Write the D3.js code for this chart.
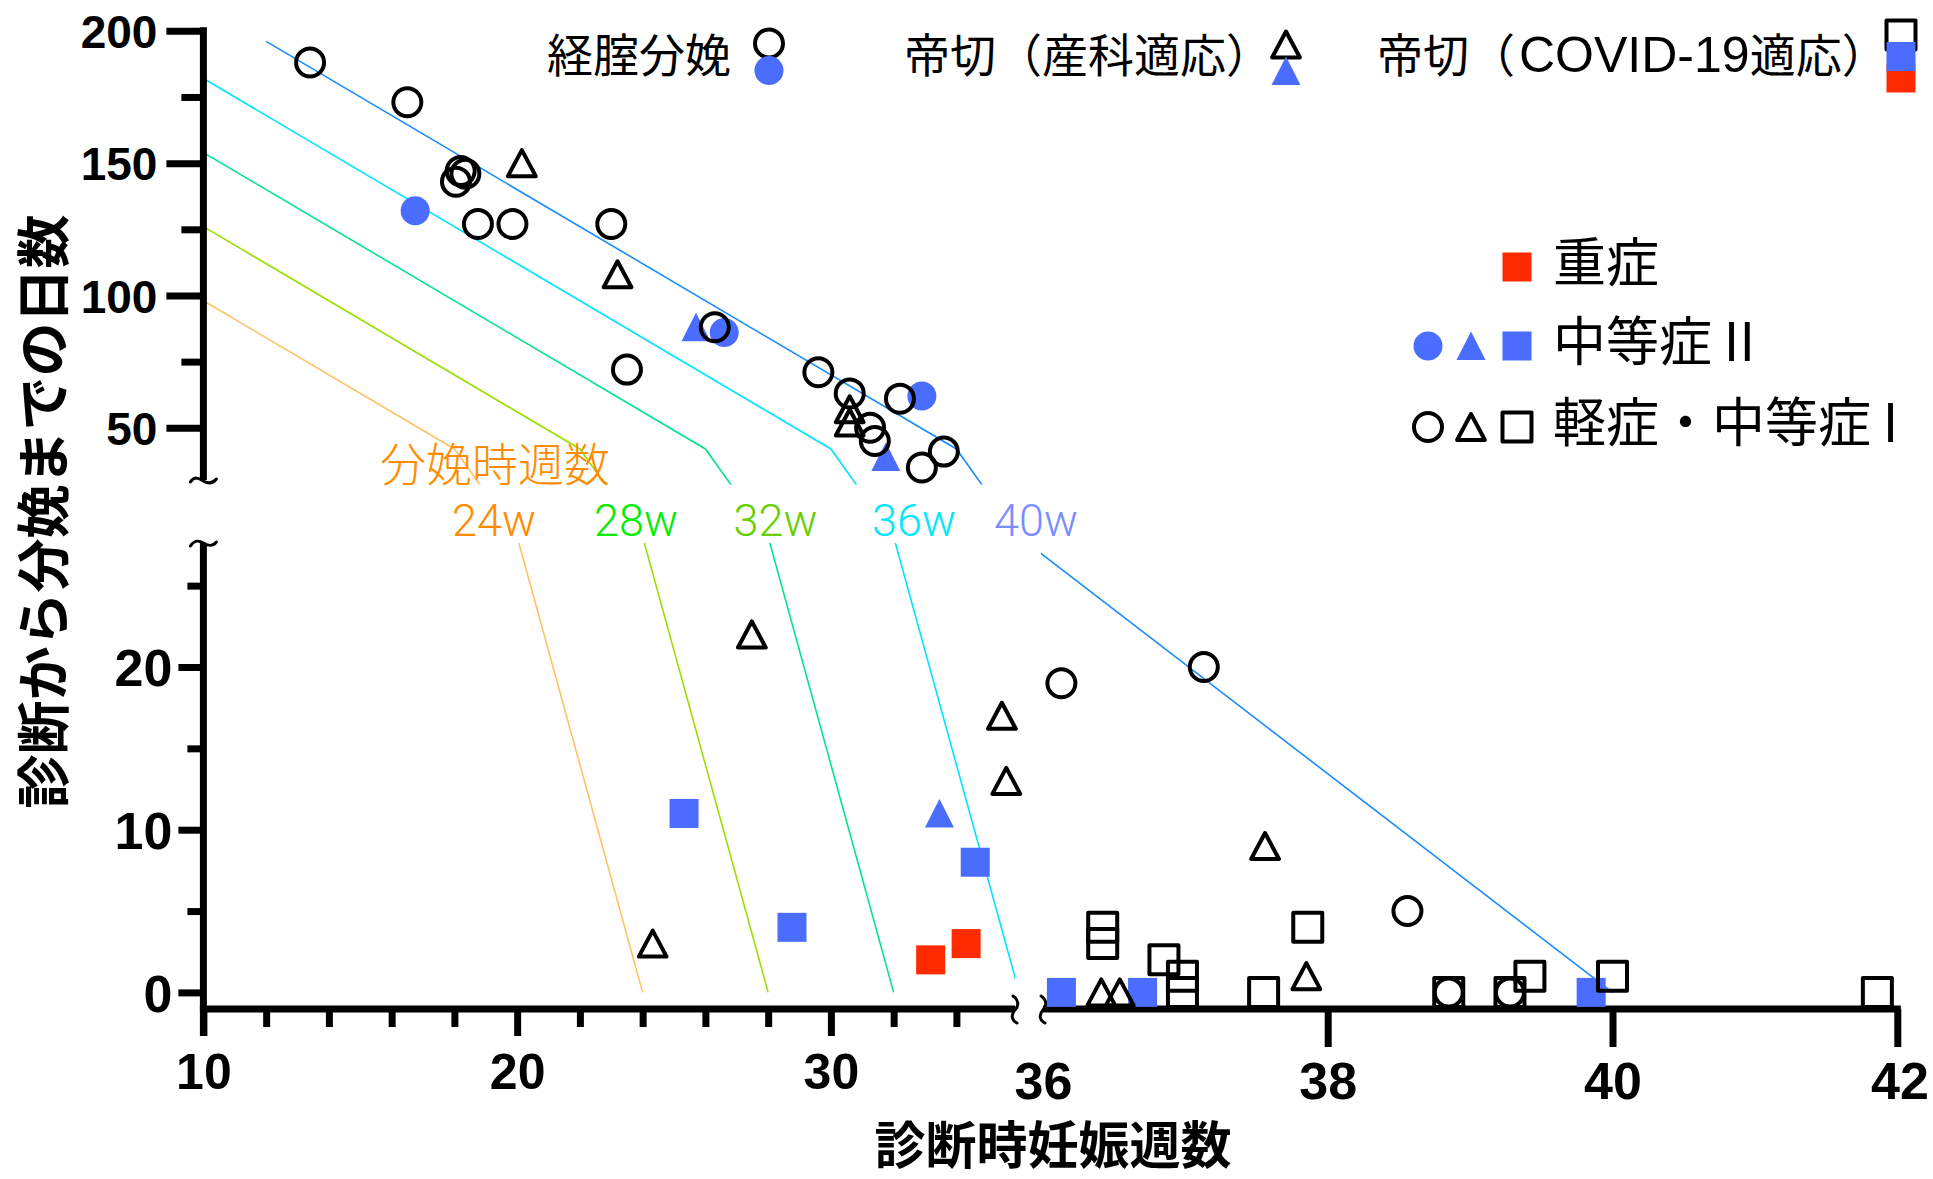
<!DOCTYPE html>
<html><head><meta charset="utf-8">
<script src="https://cdn.jsdelivr.net/npm/d3@7"></script>
<style>html,body{margin:0;padding:0;background:#fff}svg{display:block}</style>
</head><body>
<svg id="chart" width="1933" height="1179"></svg>
<script>
// ---------------- data (weeks at diagnosis, days to delivery) ----------------
const vaginalMild = [[13.4,188],[16.5,173],[18.2,147],[18.35,146],[18.05,143],[18.75,127],[19.85,127],
  [23.0,127],[23.5,72],[26.3,88],[29.6,71],[30.6,63],[32.2,61],[31.25,50],[31.4,45],[32.9,35],[33.6,41],
  [36.13,19],[37.13,20],[38.56,5],[38.85,0],[39.28,0]];
const vaginalModerate = [[16.75,132],[26.6,86],[32.9,62]];
const csObstetricMild = [[20.15,150],[23.2,108],[30.6,57],[30.6,52],
  [24.32,3],[27.48,22],[35.45,17],[35.59,13],[36.41,0],[36.54,0],[37.56,9],[37.85,1]];
const csObstetricModerate = [[25.7,88],[31.75,39],[33.46,11]];
const csCovidMild = [[36.42,4],[36.42,3],[36.85,2],[36.98,1],[36.98,0],[37.55,0],[37.86,4],
  [38.85,0],[39.28,0],[39.42,1],[40.0,1],[41.86,0]];
const csCovidModerate = [[25.32,11],[28.76,4],[34.6,8],[36.13,0],[36.7,0],[39.85,0]];
const csCovidSevere = [[33.18,2],[34.31,3]];

// reference lines: week of delivery
const lineLabels = ["24w","28w","32w","36w","40w"];
const line24 = [[10,98],[18,42],[20,28],[24,0]];
const line28 = [[10,126],[22,42],[24,28],[28,0]];
const line32 = [[10,154],[26,42],[28,28],[32,0]];
const line36 = [[10,182],[30,42],[32,28],[36,0]];
const line40 = [[12,196],[34,42],[36,28],[40,0]];

// ticks
const yUpperMajor = [50,100,150,200], yUpperMinor = [75,125,175];
const yLowerMajor = [0,10,20], yLowerMinor = [5,15,25];
const xLeftMajor = [10,20,30], xLeftMinor = [12,14,16,18,22,24,26,28,32,34];
const xRightMajor = [36,38,40,42];

// text
const yTitle = "診断から分娩までの日数";
const xTitle = "診断時妊娠週数";
const legendTop = ["経腟分娩","帝切（産科適応）"];
const legendCovid = ["帝切（","COVID-19","適応）"];
const legendSeverity = ["重症","中等症 II","軽症・中等症 I"];
const lineTitle = "分娩時週数";

// ---------------- drawing ----------------
const svg = d3.select("#chart");
const BLUE = "#4a6dff", RED = "#ff2a00";
const lineColors = ["#ffc266","#99e000","#00e68c","#00e5ff","#1a8cff"];
const labelColors = ["#ff8c00","#00ee00","#66d000","#00e8ff","#7b8cff"];

const X0 = 203.4, XAXIS_Y = 1009;
const xLeft = d3.scaleLinear().domain([10,30]).range([203.4,830.9]);
const xRight = d3.scaleLinear().domain([38,40]).range([1327.7,1612.5]);
const yUpper = d3.scaleLinear().domain([50,200]).range([427.8,30.8]);
const yLower = d3.scaleLinear().domain([0,20]).range([992.4,667]);
const sx = x => x <= 36 ? xLeft(x) : xRight(x);
const sy = y => y >= 30 ? yUpper(y) : yLower(y);

// clip for broken axes
const defs = svg.append("defs");
const cp = defs.append("clipPath").attr("id","panels");
cp.append("rect").attr("x",206).attr("y",0).attr("width",1727).attr("height",484.5);
cp.append("rect").attr("x",206).attr("y",543).attr("width",1015-206).attr("height",470);
cp.append("rect").attr("x",1041).attr("y",543).attr("width",900).attr("height",470);

const lineGen = d3.line().x(d=>sx(d[0])).y(d=>sy(d[1]));
const allLines = [line24,line28,line32,line36,line40];
svg.append("g").attr("clip-path","url(#panels)")
  .selectAll("path").data(allLines).join("path")
  .attr("d",lineGen).attr("fill","none")
  .attr("stroke",(d,i)=>lineColors[i]).attr("stroke-width",1.6);

// ---- axes ----
function styleAxis(g, fs){
  g.select(".domain").remove();
  g.selectAll(".tick line").attr("stroke","#000").attr("stroke-width",7);
  g.attr("font-family","'Liberation Sans', Arial, Helvetica, sans-serif")
   .attr("font-weight","bold").attr("font-size",fs).attr("fill","#000");
  g.selectAll(".tick text").attr("fill","#000");
}
const fmt = d3.format("d");
// upper y
svg.append("g").attr("transform",`translate(${X0},0)`)
  .call(d3.axisLeft(yUpper).tickValues(yUpperMajor).tickFormat(fmt).tickSize(37).tickPadding(9).tickSizeOuter(0))
  .call(g=>styleAxis(g,46)).call(g=>g.selectAll(".tick text").attr("dy","0.36em"));
svg.append("g").attr("transform",`translate(${X0},0)`)
  .call(d3.axisLeft(yUpper).tickValues(yUpperMinor).tickSize(22).tickFormat("").tickSizeOuter(0))
  .call(g=>styleAxis(g,46));
// lower y
svg.append("g").attr("transform",`translate(${X0},0)`)
  .call(d3.axisLeft(yLower).tickValues(yLowerMajor).tickFormat(fmt).tickSize(25).tickPadding(6).tickSizeOuter(0))
  .call(g=>styleAxis(g,52)).call(g=>g.selectAll(".tick text").attr("dy","0.36em"));
svg.append("g").attr("transform",`translate(${X0},0)`)
  .call(d3.axisLeft(yLower).tickValues(yLowerMinor).tickSize(16).tickFormat("").tickSizeOuter(0))
  .call(g=>styleAxis(g,52));
// left x
svg.append("g").attr("transform",`translate(0,${XAXIS_Y})`)
  .call(d3.axisBottom(xLeft).tickValues(xLeftMajor).tickFormat(fmt).tickSize(27).tickPadding(17.4).tickSizeOuter(0))
  .call(g=>styleAxis(g,50));
svg.append("g").attr("transform",`translate(0,${XAXIS_Y})`)
  .call(d3.axisBottom(xLeft).tickValues(xLeftMinor).tickSize(18).tickFormat("").tickSizeOuter(0))
  .call(g=>styleAxis(g,50));
// right x
svg.append("g").attr("transform",`translate(0,${XAXIS_Y})`)
  .call(d3.axisBottom(xRight).tickValues(xRightMajor).tickFormat(fmt).tickSize(38).tickPadding(14.7).tickSizeOuter(0))
  .call(g=>styleAxis(g,52))
  .call(g=>g.selectAll(".tick").filter(d=>d===36).select("line").remove())
  .call(g=>g.selectAll(".tick").filter(d=>d===42).select("text").attr("text-anchor","end").attr("x",31));

// axis lines
const axl = svg.append("g").attr("stroke","#000").attr("stroke-width",7).attr("fill","none");
axl.append("line").attr("x1",X0).attr("x2",X0).attr("y1",yUpper(200)-3.5).attr("y2",480);
axl.append("line").attr("x1",X0).attr("x2",X0).attr("y1",543).attr("y2",XAXIS_Y+27);
axl.append("line").attr("x1",X0-3.5).attr("x2",1015).attr("y1",XAXIS_Y).attr("y2",XAXIS_Y);
axl.append("line").attr("x1",1043).attr("x2",xRight(42)+3.5).attr("y1",XAXIS_Y).attr("y2",XAXIS_Y);
// break marks
const brk = svg.append("g").attr("stroke","#000").attr("stroke-width",3).attr("fill","none").attr("stroke-linecap","round");
brk.append("path").attr("d",`M${X0-13},${482} C${X0-9},${476} ${X0-5},${478} ${X0},${481} C${X0+5},${484} ${X0+9},${484} ${X0+13},${479}`);
brk.append("path").attr("d",`M${X0-13},${546} C${X0-9},${540} ${X0-5},${540} ${X0},${543} C${X0+5},${546} ${X0+9},${547} ${X0+13},${542}`);
[1015,1043].forEach(xb=>{
  brk.append("path").attr("d",`M${xb-2},${996} C${xb+4},${1000} ${xb+4},${1006} ${xb},${1010} C${xb-4},${1014} ${xb-4},${1020} ${xb+2},${1023}`);
});

// ---- symbols ----
function circleS(g,x,y,filled,color){
  g.append("circle").attr("cx",x).attr("cy",y).attr("r",filled?14.5:14)
   .attr("fill",filled?color:"none").attr("stroke",filled?"none":"#000").attr("stroke-width",4);
}
function triS(g,x,y,filled,color){
  const p = filled ? `M${x},${y-14.5}L${x+14.5},${y+14}L${x-14.5},${y+14}Z`
                   : `M${x},${y-13}L${x+13.9},${y+13}L${x-13.9},${y+13}Z`;
  g.append("path").attr("d",p).attr("fill",filled?color:"none")
   .attr("stroke",filled?"none":"#000").attr("stroke-width",4).attr("stroke-linejoin","round");
}
function sqS(g,x,y,filled,color){
  g.append("rect").attr("x",x-14.5).attr("y",y-14.5).attr("width",29).attr("height",29)
   .attr("fill",filled?color:"none").attr("stroke",filled?"none":"#000").attr("stroke-width",4)
   .attr("stroke-linejoin","round");
}
const marks = svg.append("g");
csCovidSevere.forEach(d=>sqS(marks,sx(d[0]),sy(d[1]),true,RED));
csCovidModerate.forEach(d=>sqS(marks,sx(d[0]),sy(d[1]),true,BLUE));
csObstetricModerate.forEach(d=>triS(marks,sx(d[0]),sy(d[1]),true,BLUE));
vaginalModerate.forEach(d=>circleS(marks,sx(d[0]),sy(d[1]),true,BLUE));
csCovidMild.forEach(d=>sqS(marks,sx(d[0]),sy(d[1]),false));
csObstetricMild.forEach(d=>triS(marks,sx(d[0]),sy(d[1]),false));
vaginalMild.forEach(d=>circleS(marks,sx(d[0]),sy(d[1]),false));

// ---- legends ----
const CJK = "'Noto Sans CJK JP','Noto Sans CJK SC',sans-serif";
const lg = svg.append("g");
const topText = lg.append("g").attr("font-family",CJK).attr("font-size",46).attr("fill","#000");
[[547,legendTop[0]],[904,legendTop[1]]].forEach(([x,t])=>{
  topText.append("text").attr("x",x).attr("y",71.5).text(t);
});
const cov = topText.append("text").attr("x",1377).attr("y",71.5);
cov.append("tspan").text(legendCovid[0]);
cov.append("tspan").attr("font-family","'Liberation Sans',Arial,Helvetica,sans-serif").attr("font-size",50).attr("dx",4).text(legendCovid[1]);
cov.append("tspan").text(legendCovid[2]);

circleS(lg,769,43.5,false); circleS(lg,769,70.5,true,BLUE);
triS(lg,1286,44.5,false); triS(lg,1286,71,true,BLUE);
sqS(lg,1901,78,true,RED); sqS(lg,1901,35,false); sqS(lg,1901,56.5,true,BLUE);

sqS(lg,1517,267,true,RED);
circleS(lg,1428,346,true,BLUE); triS(lg,1471,346,true,BLUE); sqS(lg,1517,346,true,BLUE);
circleS(lg,1428,427,false); triS(lg,1471,427,false); sqS(lg,1517,427,false);
const sevText = lg.append("g").attr("font-family",CJK).attr("font-size",53).attr("fill","#000");
[[282,legendSeverity[0]],[361,legendSeverity[1]],[442,legendSeverity[2]]].forEach(([y,t])=>{
  sevText.append("text").attr("x",1553).attr("y",y).text(t);
});

// line labels
svg.append("text").attr("x",380).attr("y",480.5).attr("font-family",CJK)
  .attr("font-size",46).attr("font-weight",300).attr("fill","#ff8c00").text(lineTitle);
const labelX = [494,636,775.5,914,1036];
svg.append("g").attr("font-family","Roboto,'Liberation Sans',sans-serif").attr("font-weight",300)
  .attr("font-size",45).attr("text-anchor","middle")
  .selectAll("text").data(lineLabels).join("text")
  .attr("x",(d,i)=>labelX[i]).attr("y",536).attr("fill",(d,i)=>labelColors[i]).text(d=>d);

// axis titles
svg.append("text").attr("transform","translate(43.5,511.5) rotate(-90)")
  .attr("text-anchor","middle").attr("y",20.5).attr("font-family",CJK)
  .attr("font-weight","bold").attr("font-size",54).attr("fill","#000").text(yTitle);
svg.append("text").attr("x",1053).attr("y",1164).attr("text-anchor","middle").attr("font-family",CJK)
  .attr("font-weight","bold").attr("font-size",51).attr("fill","#000").text(xTitle);
</script>
</body></html>
